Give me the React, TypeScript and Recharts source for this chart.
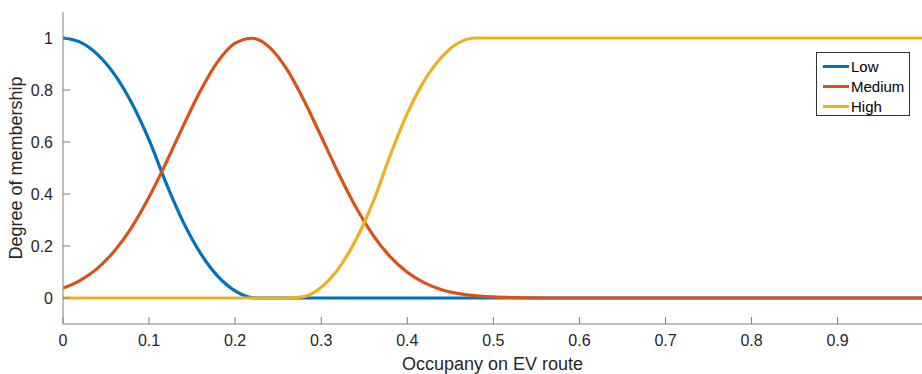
import React from 'react';
import { LineChart, Line, XAxis, YAxis } from 'recharts';

// occupancy samples (x) and membership degree
const occupancy = [
  0, 0.02, 0.04, 0.06, 0.08, 0.1, 0.12, 0.14, 0.16, 0.18, 0.2, 0.22, 0.24, 0.26,
  0.28, 0.3, 0.32, 0.34, 0.36, 0.38, 0.4, 0.42, 0.44, 0.46, 0.48, 0.5, 0.52, 0.54,
  0.56, 0.6, 0.7, 0.8, 0.9, 0.998,
];
const low = [
  1, 0.984, 0.937, 0.859, 0.749, 0.608, 0.44, 0.29, 0.171, 0.083, 0.027, 0.001, 0, 0,
  0, 0, 0, 0, 0, 0, 0, 0, 0, 0, 0, 0, 0, 0,
  0, 0, 0, 0, 0, 0,
];
const medium = [
  0.038, 0.068, 0.114, 0.182, 0.273, 0.388, 0.522, 0.664, 0.799, 0.91, 0.98, 0.999, 0.964, 0.88,
  0.76, 0.621, 0.48, 0.351, 0.243, 0.159, 0.099, 0.058, 0.032, 0.017, 0.008, 0.004, 0.002, 0.001,
  0, 0, 0, 0, 0, 0,
];
const high = [
  0, 0, 0, 0, 0, 0, 0, 0, 0, 0, 0, 0, 0, 0,
  0.005, 0.041, 0.113, 0.222, 0.367, 0.547, 0.71, 0.837, 0.927, 0.982, 1, 1, 1, 1,
  1, 1, 1, 1, 1, 1,
];
const xTicks = [0, 0.1, 0.2, 0.3, 0.4, 0.5, 0.6, 0.7, 0.8, 0.9];
const yTicks = [0, 0.2, 0.4, 0.6, 0.8, 1];

const series = [
  { key: 'Low', color: '#0072BD' },
  { key: 'Medium', color: '#D95319' },
  { key: 'High', color: '#EDB120' },
];

const data = occupancy.map((x, i) => ({
  x,
  Low: low[i],
  Medium: medium[i],
  High: high[i],
}));

const font = '"Liberation Sans", Arial, sans-serif';
const axisColor = '#808080';
const textColor = '#262626';

// legend drawn as an overlay box in the upper right, like MATLAB's
function LegendBox() {
  return (
    <div
      style={{
        position: 'absolute',
        left: 816,
        top: 52,
        border: '1px solid #333',
        background: '#fff',
        width: 94,
        height: 64,
        paddingTop: 3,
        boxSizing: 'border-box',
        fontFamily: font,
        fontSize: 15,
        color: '#000',
      }}
    >
      {series.map((s) => (
        <div key={s.key} style={{ display: 'flex', alignItems: 'center', height: 20 }}>
          <div style={{ width: 26, height: 3, background: s.color, marginLeft: 6, marginRight: 2 }} />
          <span>{s.key}</span>
        </div>
      ))}
    </div>
  );
}

export default function App() {
  return (
    <div style={{ position: 'absolute', left: 0, top: 0, width: 922, height: 374 }}>
      <LineChart
        width={922}
        height={374}
        data={data}
        margin={{ top: 12, right: 0, bottom: 0, left: 0 }}
        style={{ fontFamily: font }}
      >
        <XAxis
          xAxisId="top"
          orientation="top"
          dataKey="x"
          type="number"
          domain={[0, 0.998]}
          ticks={xTicks}
          height={0}
          tick={false}
          tickSize={-7}
          axisLine={{ stroke: axisColor }}
          tickLine={{ stroke: axisColor }}
          allowDataOverflow
        />
        <XAxis
          dataKey="x"
          type="number"
          domain={[0, 0.998]}
          ticks={xTicks}
          height={50}
          tickSize={-7}
          tickMargin={18}
          fontSize={16}
          axisLine={{ stroke: axisColor }}
          tickLine={{ stroke: axisColor }}
          tick={{ fill: textColor, fontSize: 16 }}
          allowDataOverflow
          label={{
            value: 'Occupany on EV route',
            position: 'insideBottom',
            offset: 4,
            fill: textColor,
            fontSize: 18,
          }}
        />
        <YAxis
          type="number"
          domain={[-0.1, 1.1]}
          ticks={yTicks}
          width={63}
          tickSize={-7}
          tickMargin={17}
          fontSize={16}
          axisLine={{ stroke: axisColor }}
          tickLine={{ stroke: axisColor }}
          tick={{ fill: textColor, fontSize: 16 }}
          allowDataOverflow
          label={{
            value: 'Degree of membership',
            angle: -90,
            position: 'insideLeft',
            offset: 16,
            fill: textColor,
            fontSize: 18,
            style: { textAnchor: 'middle' },
          }}
        />
        {series.map((s) => (
          <Line
            key={s.key}
            dataKey={s.key}
            type="monotone"
            stroke={s.color}
            strokeWidth={3.2}
            dot={false}
            activeDot={false}
            isAnimationActive={false}
          />
        ))}
      </LineChart>
      <LegendBox />
    </div>
  );
}
